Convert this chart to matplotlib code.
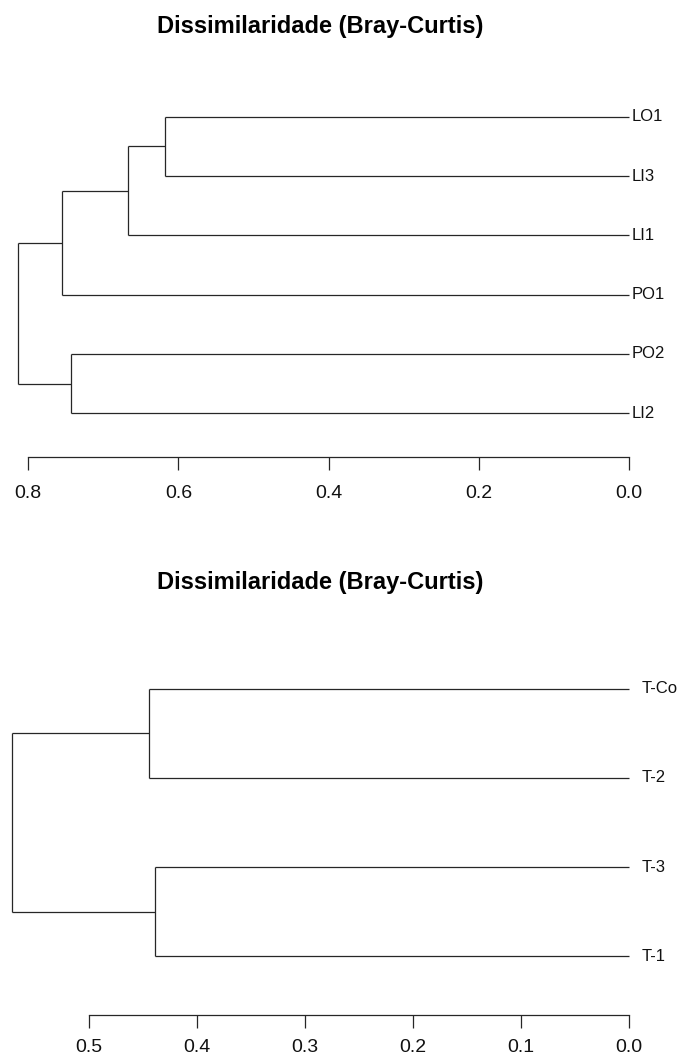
import numpy as np
import matplotlib.pyplot as plt

plt.rcParams['font.family'] = ['Liberation Sans', 'DejaVu Sans']

titulo = "Dissimilaridade (Bray-Curtis)"

# grupo 1: folhas de cima para baixo e fusoes (esq, dir, altura)
folhas1 = ["LO1", "LI3", "LI1", "PO1", "PO2", "LI2"]
arvore1 = ((("LO1", "LI3", 0.618), "LI1", 0.667), "PO1", 0.755)
arvore1 = (arvore1, ("PO2", "LI2", 0.743), 0.813)
ticks1 = [0.8, 0.6, 0.4, 0.2, 0.0]

# grupo 2
folhas2 = ["T-Co", "T-2", "T-3", "T-1"]
arvore2 = (("T-Co", "T-2", 0.444), ("T-3", "T-1", 0.439), 0.571)
ticks2 = [0.5, 0.4, 0.3, 0.2, 0.1, 0.0]

cor = '#262626'


def desenha(ax, no, ypos):
    # devolve (y, altura) do no e desenha os segmentos
    if isinstance(no, str):
        return ypos[no], 0.0
    esq, dir_, h = no
    y1, h1 = desenha(ax, esq, ypos)
    y2, h2 = desenha(ax, dir_, ypos)
    ax.plot([h1, h], [y1, y1], color=cor, lw=0.9, solid_capstyle='butt')
    ax.plot([h2, h], [y2, y2], color=cor, lw=0.9, solid_capstyle='butt')
    ax.plot([h, h], [y1, y2], color=cor, lw=0.9, solid_capstyle='butt')
    return (y1 + y2) / 2, h


def dendro(ax, arvore, folhas, ticks, xlim, dx_rot, y_tit, pad_tick):
    n = len(folhas)
    ypos = {f: n - i for i, f in enumerate(folhas)}
    desenha(ax, arvore, ypos)
    for f in folhas:
        ax.annotate(f, (0, ypos[f]), xytext=(dx_rot, 0), textcoords='offset points',
                    ha='left', va='center', fontsize=12, color='#111111')
    pad = 0.04 * n
    ax.set_ylim(0.5 - pad, n + 0.5 + pad)
    ax.set_xlim(*xlim)
    for s in ['top', 'right', 'left']:
        ax.spines[s].set_visible(False)
    ax.spines['bottom'].set_bounds(min(ticks), max(ticks))
    ax.spines['bottom'].set_color(cor)
    ax.spines['bottom'].set_linewidth(0.9)
    ax.set_yticks([])
    ax.set_xticks(ticks)
    ax.set_xticklabels([f"{t:.1f}" for t in ticks])
    ax.tick_params(axis='x', length=9, width=0.9, color=cor, pad=pad_tick,
                   labelsize=14, labelcolor='#111111')
    ax.set_title(titulo, fontsize=17, fontweight='bold', x=0.468, y=y_tit,
                 pad=0, va='center')


fig = plt.figure(figsize=(6.85, 10.6), dpi=100)

ax1 = fig.add_axes([0.0, 1 - 457 / 1060, 1.0, 384 / 1060])
dendro(ax1, arvore1, folhas1, ticks1, (0.8375, -0.0746), 2,
       1 + (73 - 26) / 384, 11)

ax2 = fig.add_axes([0.0, 1 - 1015 / 1060, 1.0, 385 / 1060])
dendro(ax2, arvore2, folhas2, ticks2, (0.5824, -0.0519), 9,
       1 + (630 - 582) / 385, 8)

fig.savefig("out.png", dpi=100, facecolor='white')
